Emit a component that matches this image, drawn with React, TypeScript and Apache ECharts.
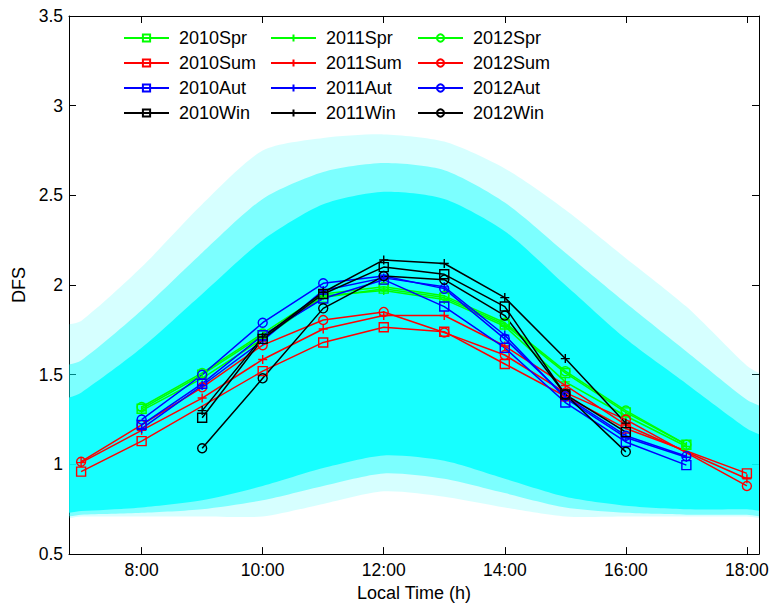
import React, { useEffect, useRef } from 'react';
import * as echarts from 'echarts';

// Local hours of the observations
const hours = [7, 8, 9, 10, 11, 12, 13, 14, 15, 16, 17, 18];

// Seasonal mean DFS per year (null = no value at that hour)
const spr2010 = [null, 1.31, 1.50, 1.72, 1.93, 1.98, 1.93, 1.78, 1.51, 1.29, 1.11, null];
const spr2011 = [null, 1.30, 1.48, 1.70, 1.94, 1.97, 1.92, 1.77, 1.46, 1.27, 1.10, null];
const spr2012 = [null, 1.32, 1.51, 1.73, 1.95, 1.99, 1.94, 1.79, 1.52, 1.30, 1.11, null];
const sum2010 = [0.96, 1.13, null, 1.52, 1.68, 1.765, 1.74, 1.56, 1.38, 1.20, null, 0.95];
const sum2011 = [1.01, 1.19, 1.37, 1.585, 1.755, 1.83, 1.83, 1.66, 1.44, 1.22, null, 0.92];
const sum2012 = [1.015, 1.22, 1.43, 1.665, 1.805, 1.85, 1.735, 1.61, 1.40, 1.25, null, 0.88];
const aut2010 = [null, 1.22, 1.45, 1.72, 1.925, 2.03, 1.88, 1.65, 1.345, 1.125, 0.996, null];
const aut2011 = [null, 1.20, 1.44, 1.69, 1.97, 2.04, 1.99, 1.72, 1.37, 1.15, 1.04, null];
const aut2012 = [null, 1.25, 1.50, 1.79, 2.01, 2.05, 1.98, 1.70, 1.38, 1.16, 1.046, null];
const win2010 = [null, null, 1.26, 1.70, 1.95, 2.10, 2.06, 1.88, 1.39, 1.18, null, null];
const win2011 = [null, null, 1.30, 1.71, 1.96, 2.14, 2.12, 1.93, 1.59, 1.23, null, null];
const win2012 = [null, null, 1.09, 1.48, 1.87, 2.05, 2.03, 1.83, 1.39, 1.07, null, null];

// Envelopes of the individual-sample cloud
const cloudHours = [6.6, 7, 8, 9, 10, 11, 12, 13, 14, 15, 16, 17, 18, 18.4];
const cloudOuterTop = [1.75, 1.8, 2.1, 2.45, 2.75, 2.82, 2.84, 2.8, 2.65, 2.42, 2.15, 1.88, 1.55, 1.45];
const cloudMidTop = [1.52, 1.58, 1.86, 2.18, 2.48, 2.63, 2.68, 2.64, 2.46, 2.18, 1.9, 1.63, 1.36, 1.28];
const cloudCoreTop = [1.33, 1.4, 1.65, 1.95, 2.25, 2.45, 2.52, 2.48, 2.3, 2.0, 1.7, 1.45, 1.2, 1.12];
const cloudCoreBottom = [0.74, 0.74, 0.76, 0.8, 0.88, 0.98, 1.05, 1.02, 0.92, 0.82, 0.77, 0.75, 0.75, 0.75];
const cloudMidBottom = [0.72, 0.72, 0.73, 0.75, 0.8, 0.88, 0.95, 0.92, 0.84, 0.76, 0.73, 0.72, 0.72, 0.72];
const cloudOuterBottom = [0.71, 0.71, 0.71, 0.71, 0.71, 0.78, 0.85, 0.82, 0.76, 0.71, 0.71, 0.71, 0.71, 0.71];

const xTicks = [8, 10, 12, 14, 16, 18];

const PLUS = 'path://M5,0 L5,10 M0,5 L10,5';

const seriesDefs = [
  { name: '2010Spr', data: spr2010, color: '#00ff00', symbol: 'rect' },
  { name: '2011Spr', data: spr2011, color: '#00ff00', symbol: PLUS },
  { name: '2012Spr', data: spr2012, color: '#00ff00', symbol: 'circle' },
  { name: '2010Sum', data: sum2010, color: '#ff0000', symbol: 'rect' },
  { name: '2011Sum', data: sum2011, color: '#ff0000', symbol: PLUS },
  { name: '2012Sum', data: sum2012, color: '#ff0000', symbol: 'circle' },
  { name: '2010Aut', data: aut2010, color: '#0000ff', symbol: 'rect' },
  { name: '2011Aut', data: aut2011, color: '#0000ff', symbol: PLUS },
  { name: '2012Aut', data: aut2012, color: '#0000ff', symbol: 'circle' },
  { name: '2010Win', data: win2010, color: '#000000', symbol: 'rect' },
  { name: '2011Win', data: win2011, color: '#000000', symbol: PLUS },
  { name: '2012Win', data: win2012, color: '#000000', symbol: 'circle' },
];

const FONT = '"Liberation Sans", Arial, Helvetica, sans-serif';

export default function App() {
  const ref = useRef<HTMLDivElement>(null);

  useEffect(() => {
    if (!ref.current) return;
    const chart = echarts.init(ref.current, undefined, { renderer: 'svg' });

    const colX = [123, 270, 417];
    const rowY = [38, 63, 88, 113];

    const legends = seriesDefs.map((s, i) => ({
      left: colX[i % 3],
      top: rowY[Math.floor(i / 3)] - 9,
      padding: 0,
      orient: 'horizontal',
      selectedMode: false,
      itemWidth: 45,
      itemHeight: 9,
      data: [s.name],
      textStyle: { fontSize: 18, fontFamily: FONT, color: '#000', lineHeight: 18, padding: [0, 0, 0, 5] },
    }));

    const lineSeries = seriesDefs.map((s) => ({
      name: s.name,
      type: 'line',
      xAxisIndex: 0,
      yAxisIndex: 0,
      data: hours
        .map((h, i) => (s.data[i] == null ? null : [h, s.data[i]]))
        .filter((d) => d !== null),
      color: s.color,
      symbol: s.symbol,
      symbolSize: 9,
      showAllSymbol: true,
      lineStyle: { color: s.color, width: 1.5 },
      itemStyle: { color: 'rgba(255,255,255,0)', borderColor: s.color, borderWidth: 1.4 },
      emphasis: { disabled: true },
      z: 3,
    }));

    const cloudSeries = {
      type: 'custom',
      xAxisIndex: 0,
      yAxisIndex: 0,
      silent: true,
      clip: true,
      z: 1,
      data: [[12, 2]],
      renderItem: (_params: any, api: any) => {
        const poly = (top: number[], bot: number[]) => [
          ...cloudHours.map((h, i) => api.coord([h, top[i]])),
          ...cloudHours.map((h, i) => api.coord([h, bot[i]])).reverse(),
        ];
        return {
          type: 'group',
          children: [
            {
              type: 'polygon',
              shape: { points: poly(cloudOuterTop, cloudOuterBottom), smooth: 0.25 },
              style: { fill: 'rgba(0,255,255,0.16)' },
            },
            {
              type: 'polygon',
              shape: { points: poly(cloudMidTop, cloudMidBottom), smooth: 0.25 },
              style: { fill: 'rgba(0,255,255,0.42)' },
            },
            {
              type: 'polygon',
              shape: { points: poly(cloudCoreTop, cloudCoreBottom), smooth: 0.25 },
              style: { fill: 'rgba(0,255,255,0.82)' },
            },
          ],
        };
      },
    };

    const axisLine = { show: true, lineStyle: { color: '#000', width: 1 } };

    chart.setOption({
      animation: false,
      backgroundColor: '#fff',
      grid: { left: 69, right: 13, top: 16, bottom: 47, containLabel: false },
      legend: legends,
      xAxis: [
        {
          type: 'value',
          min: 6.8,
          max: 18.2,
          position: 'bottom',
          axisLine,
          splitLine: { show: false },
          axisTick: { show: true, inside: true, length: 7, customValues: xTicks, lineStyle: { color: '#000' } },
          axisLabel: {
            customValues: xTicks,
            formatter: (v: number) => `${v}:00`,
            fontSize: 17.5,
            fontFamily: FONT,
            color: '#000',
            margin: 7,
          },
          name: 'Local Time (h)',
          nameLocation: 'middle',
          nameGap: 28,
          nameTextStyle: { fontSize: 18, fontFamily: FONT, color: '#000' },
        },
        {
          type: 'value',
          min: 6.8,
          max: 18.2,
          position: 'top',
          axisLine,
          splitLine: { show: false },
          axisTick: { show: true, inside: true, length: 7, customValues: xTicks, lineStyle: { color: '#000' } },
          axisLabel: { show: false },
        },
      ],
      yAxis: [
        {
          type: 'value',
          min: 0.5,
          max: 3.5,
          interval: 0.5,
          position: 'left',
          axisLine,
          splitLine: { show: false },
          axisTick: { show: true, inside: true, length: 7, lineStyle: { color: '#000' } },
          axisLabel: { fontSize: 17.5, fontFamily: FONT, color: '#000', margin: 6 },
          name: 'DFS',
          nameLocation: 'middle',
          nameGap: 38,
          nameTextStyle: { fontSize: 18, fontFamily: FONT, color: '#000' },
        },
        {
          type: 'value',
          min: 0.5,
          max: 3.5,
          interval: 0.5,
          position: 'right',
          axisLine,
          splitLine: { show: false },
          axisTick: { show: true, inside: true, length: 7, lineStyle: { color: '#000' } },
          axisLabel: { show: false },
        },
      ],
      series: [cloudSeries, ...lineSeries],
    });

    return () => chart.dispose();
  }, []);

  return <div ref={ref} style={{ width: 772, height: 607, position: 'absolute', left: 0, top: 0 }} />;
}
